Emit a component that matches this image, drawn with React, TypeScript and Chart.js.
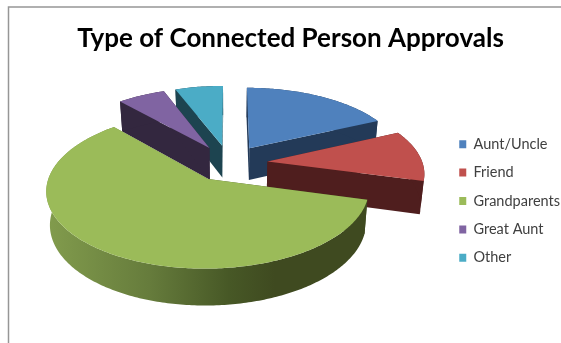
import React, { useEffect, useRef } from "react";
import { Chart, registerables } from "chart.js";

Chart.register(...registerables);

const categories = ["Aunt/Uncle", "Friend", "Grandparents", "Great Aunt", "Other"];
const shares = [18.1, 11.1, 59.2, 5.8, 5.8];
const faceColours = ["#4F81BD", "#C0504D", "#9BBB59", "#8064A2", "#4BACC6"];
const wallColours = ["#233A58", "#4F1E1E", "#3F4A20", "#33273F", "#1D4450"];
const titleText = "Type of Connected Person Approvals";

// Perspective set-up of the tilted, exploded pie.
const CX = 229;
const CY = 163;
const SCALE_X = 155;
const SCALE_Y = 72.5;
const TILT = 0.138;
const EXPLODE = 0.25;
const DEPTH = 32.5;
const BASE_SHRINK_X = 0.98;
const BASE_STRETCH_Y = 1.042;

type Pt = [number, number];

function project(wx: number, wy: number, lower: boolean): Pt {
  const w = 1 - TILT * wy;
  const x = CX + (SCALE_X * wx) / w;
  const y = CY + (SCALE_Y * wy) / w;
  if (!lower) return [x, y];
  return [CX + BASE_SHRINK_X * (x - CX), CY + DEPTH + BASE_STRETCH_Y * (y - CY)];
}

function tracePolygon(ctx: CanvasRenderingContext2D, points: Pt[]) {
  ctx.beginPath();
  points.forEach(([x, y], i) => (i ? ctx.lineTo(x, y) : ctx.moveTo(x, y)));
  ctx.closePath();
}

const pie3dPlugin = {
  id: "pie3d",
  beforeDraw(chart: Chart) {
    // Outer frame of the chart, open towards the right and bottom edges.
    const { ctx, width, height } = chart;
    ctx.save();
    ctx.strokeStyle = "#969696";
    ctx.lineWidth = 1.5;
    ctx.beginPath();
    ctx.moveTo(8.5, height);
    ctx.lineTo(8.5, 7);
    ctx.lineTo(width, 7);
    ctx.stroke();
    ctx.restore();
  },
  beforeDatasetsDraw(chart: Chart) {
    const { ctx } = chart;
    const arcs = chart.getDatasetMeta(0).data as any[];
    const slices = arcs.map((arc, index) => {
      const { startAngle, endAngle } = arc.getProps(["startAngle", "endAngle"], true);
      const mid = (startAngle + endAngle) / 2;
      const ox = EXPLODE * Math.cos(mid);
      const oy = EXPLODE * Math.sin(mid);
      const rim: Array<[number, number]> = [];
      const steps = Math.max(2, Math.ceil((endAngle - startAngle) / 0.015));
      for (let s = 0; s <= steps; s++) {
        const a = startAngle + ((endAngle - startAngle) * s) / steps;
        rim.push([ox + Math.cos(a), oy + Math.sin(a)]);
      }
      return { index, ox, oy, rim };
    });

    // Paint far slices first so nearer ones overlap them.
    slices.sort((p, q) => p.oy - q.oy);

    for (const { index, ox, oy, rim } of slices) {
      const up = rim.map(([x, y]) => project(x, y, false));
      const down = rim.map(([x, y]) => project(x, y, true));
      const apexUp = project(ox, oy, false);
      const apexDown = project(ox, oy, true);

      let wall: string | CanvasGradient = wallColours[index];
      if (index === categories.indexOf("Grandparents")) {
        const g = ctx.createLinearGradient(46, 0, 275, 0);
        g.addColorStop(0, "#829C4D");
        g.addColorStop(0.45, "#667C3C");
        g.addColorStop(0.8, "#475826");
        g.addColorStop(1, wallColours[index]);
        wall = g;
      }
      ctx.fillStyle = wall;
      tracePolygon(ctx, [apexUp, up[0], down[0], apexDown]);
      ctx.fill();
      tracePolygon(ctx, [apexUp, up[up.length - 1], down[down.length - 1], apexDown]);
      ctx.fill();
      tracePolygon(ctx, [...up, ...down.slice().reverse()]);
      ctx.fill();

      ctx.fillStyle = faceColours[index];
      tracePolygon(ctx, [apexUp, ...up]);
      ctx.fill();
    }
    return false;
  },
};

export default function App() {
  const canvasRef = useRef<HTMLCanvasElement | null>(null);

  useEffect(() => {
    document.body.style.margin = "0";
    document.body.style.background = "#ffffff";
    const chart = new Chart(canvasRef.current as HTMLCanvasElement, {
      type: "pie",
      data: {
        labels: categories,
        datasets: [{ data: shares, backgroundColor: faceColours, borderWidth: 0 }],
      },
      options: {
        responsive: false,
        animation: false,
        layout: { padding: { left: 11, right: -9, top: 0, bottom: -59 } },
        plugins: {
          tooltip: { enabled: false },
          title: {
            display: true,
            text: titleText,
            color: "#000000",
            font: { family: "Lato", size: 26, weight: "bold" },
            padding: { top: 23, bottom: 4 },
          },
          legend: {
            position: "right",
            labels: {
              boxWidth: 7,
              boxHeight: 8,
              padding: 13.9,
              color: "#404040",
              font: { family: "Lato", size: 14.5 },
            },
          },
        },
      },
      plugins: [pie3dPlugin],
    } as any);
    return () => chart.destroy();
  }, []);

  return (
    <div style={{ width: 561, height: 343, overflow: "hidden" }}>
      <canvas ref={canvasRef} width={561} height={343} style={{ display: "block" }} />
    </div>
  );
}
